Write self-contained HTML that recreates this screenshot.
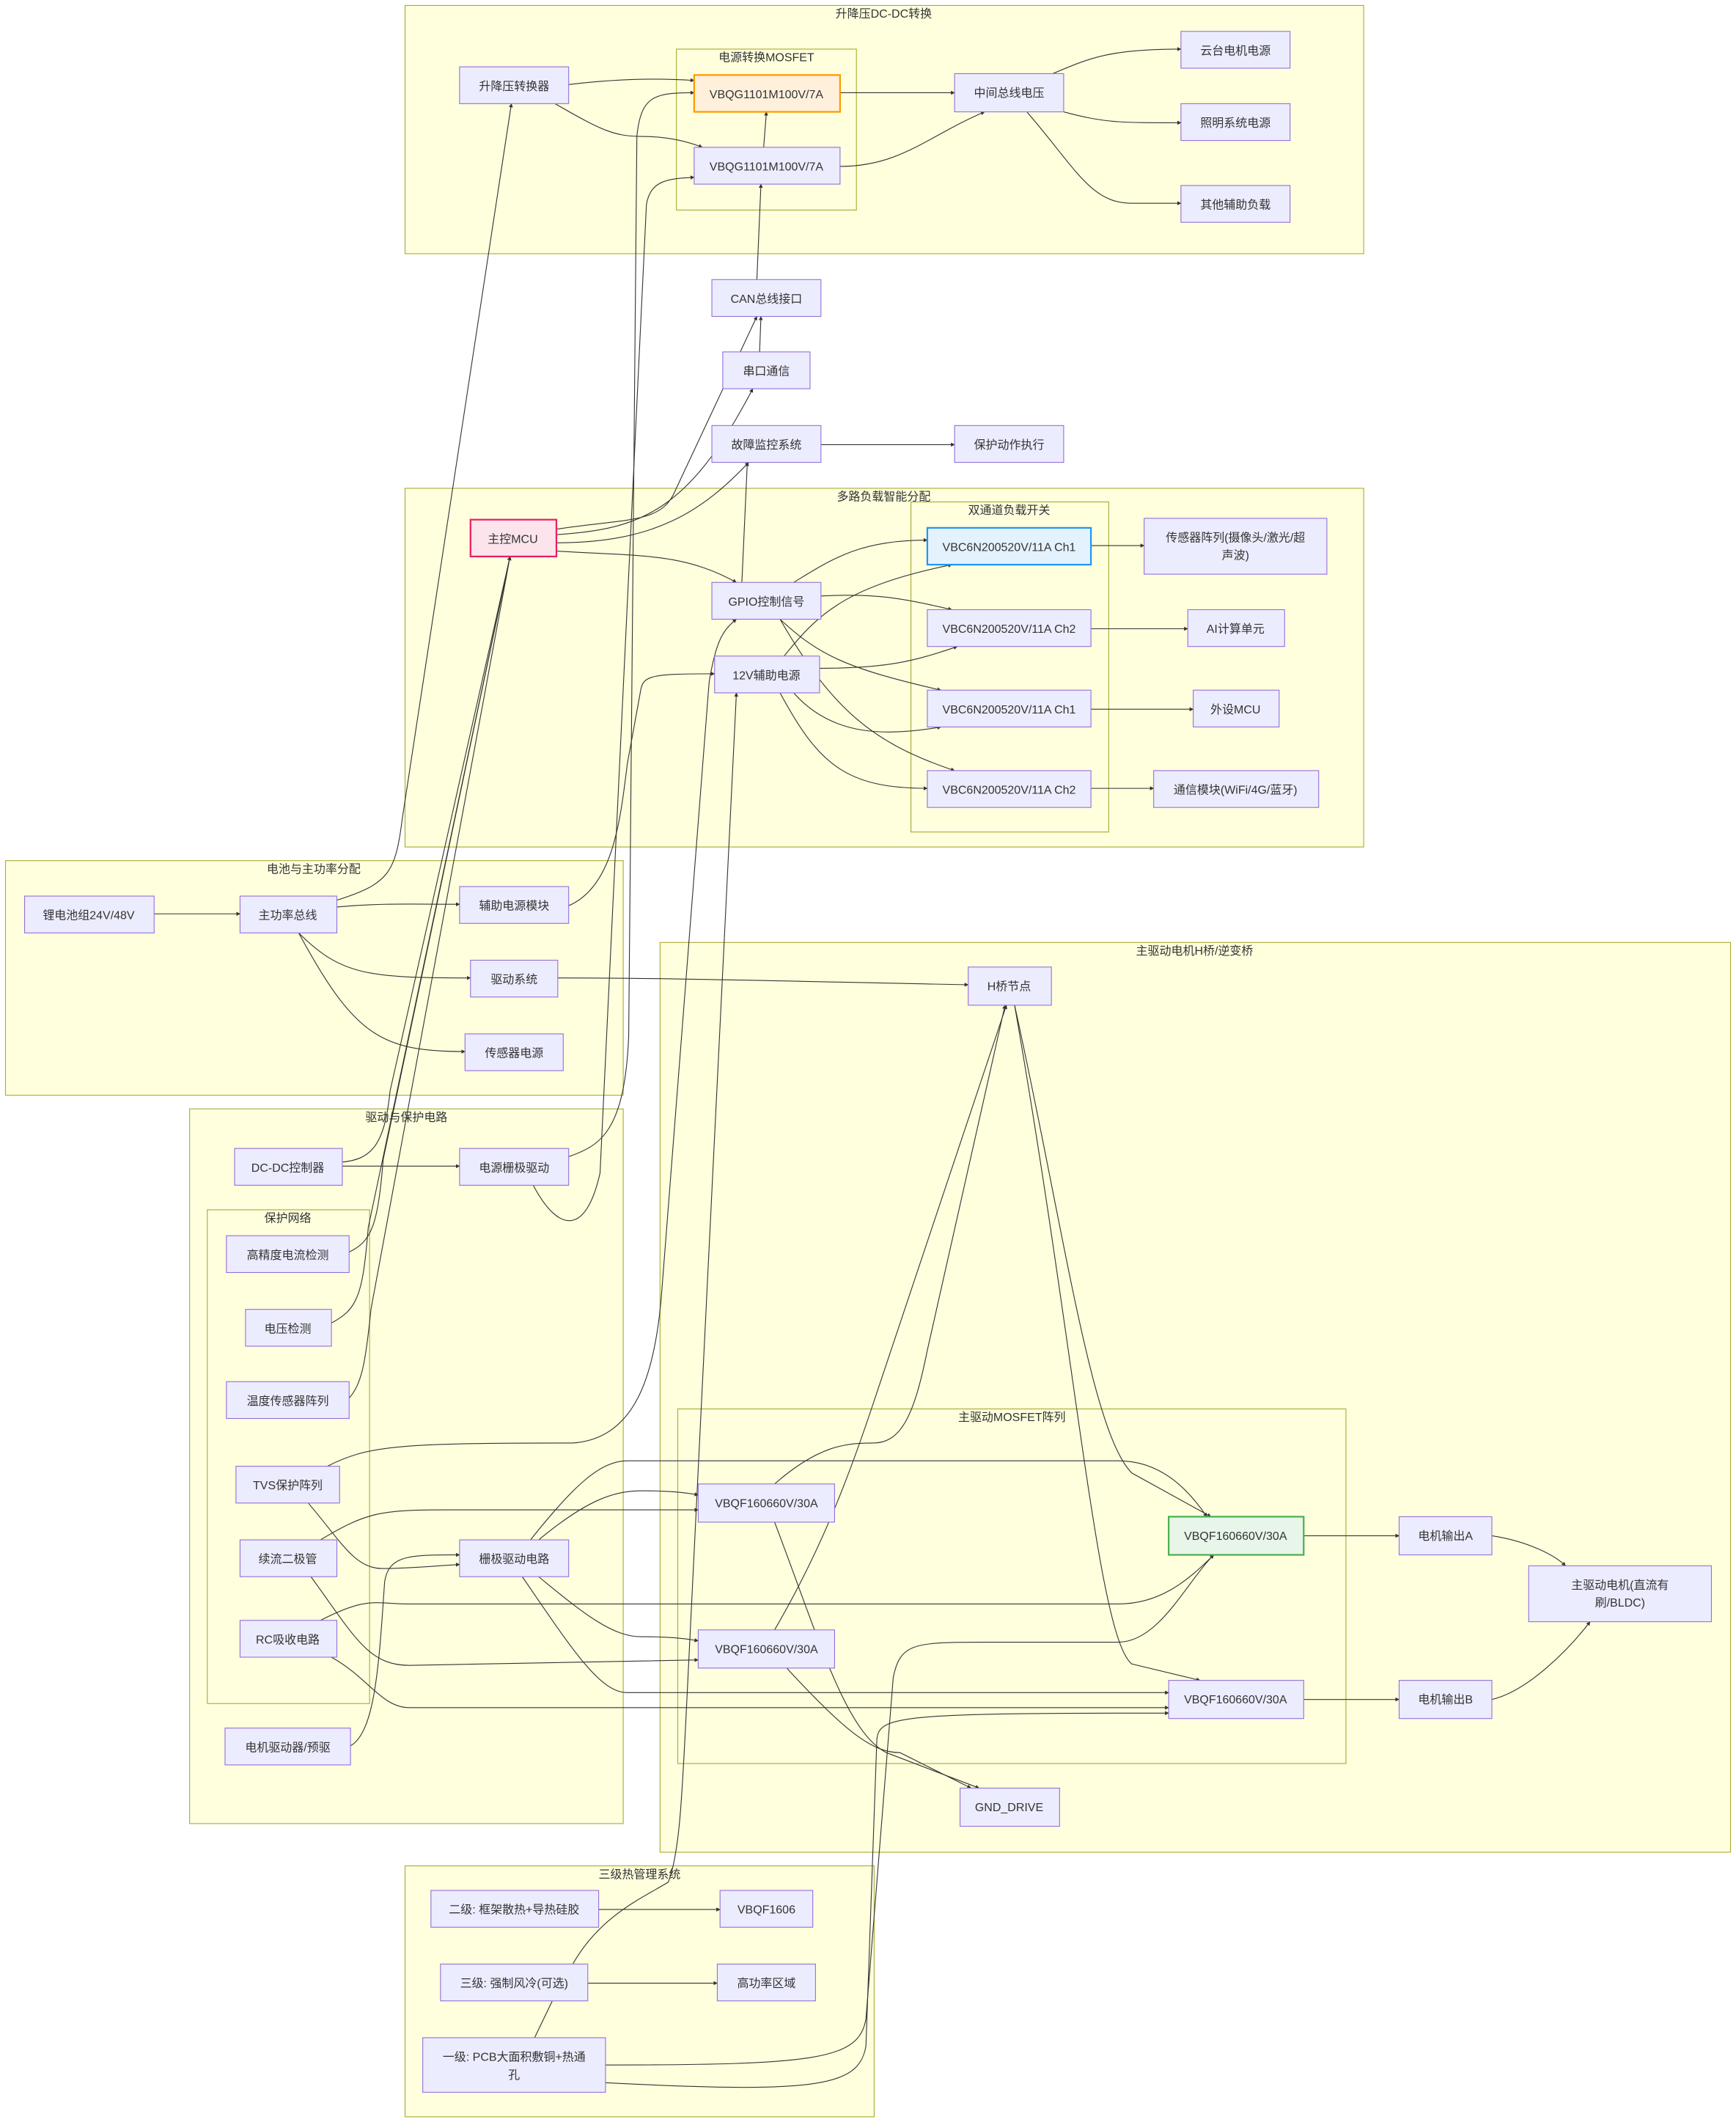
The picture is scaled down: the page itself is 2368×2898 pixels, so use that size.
<!DOCTYPE html>
<html><head><meta charset="utf-8"><style>
html,body{margin:0;padding:0;background:#fff;}
svg{display:block;}
text{font-family:"Liberation Sans","Noto Sans CJK SC",sans-serif;font-size:8.6px;fill:#333;}
.c{fill:#ffffde;stroke:#aaaa33;stroke-width:0.6;}
.n{fill:#ececff;stroke:#9370db;stroke-width:0.6;}
.e{fill:none;stroke:#333;stroke-width:0.6;}
</style></head><body>
<svg width="2368" height="2898" viewBox="0 0 1273 1558" xmlns="http://www.w3.org/2000/svg">
<defs><marker id="a" viewBox="0 0 10 10" refX="9" refY="5" markerWidth="5" markerHeight="5" orient="auto"><path d="M0,0L10,5L0,10z" fill="#333"/></marker></defs>
<!-- clusters -->
<rect class="c" x="297" y="4" width="703" height="182"/><text x="648" y="13" text-anchor="middle">升降压DC-DC转换</text>
<rect class="c" x="496" y="36" width="132" height="118"/><text x="562" y="45" text-anchor="middle">电源转换MOSFET</text>
<rect class="c" x="297" y="358" width="703" height="263"/><text x="648" y="367" text-anchor="middle">多路负载智能分配</text>
<rect class="c" x="668" y="368" width="145" height="242"/><text x="740" y="377" text-anchor="middle">双通道负载开关</text>
<rect class="c" x="4" y="631" width="453" height="172"/><text x="230" y="640" text-anchor="middle">电池与主功率分配</text>
<rect class="c" x="484" y="691" width="785" height="667"/><text x="876" y="700" text-anchor="middle">主驱动电机H桥/逆变桥</text>
<rect class="c" x="497" y="1033" width="490" height="260"/><text x="742" y="1042" text-anchor="middle">主驱动MOSFET阵列</text>
<rect class="c" x="139" y="813" width="318" height="524"/><text x="298" y="822" text-anchor="middle">驱动与保护电路</text>
<rect class="c" x="152" y="887" width="119" height="362"/><text x="211" y="896" text-anchor="middle">保护网络</text>
<rect class="c" x="297" y="1368" width="344" height="184"/><text x="469" y="1377" text-anchor="middle">三级热管理系统</text>
<!-- edges -->
<g class="e" marker-end="url(#a)">
<path d="M417,62 C450,58 480,57 509,59"/>
<path d="M407,76 C440,95 450,100 470,100 C490,100 505,104 515,108"/>
<path d="M560,108 L562,82"/>
<path d="M616,68 L700,68"/>
<path d="M616,122 C660,122 680,100 722,82"/>
<path d="M772,54 C800,42 815,36 866,36"/>
<path d="M780,82 C810,90 820,90 866,90"/>
<path d="M753,82 C790,125 800,149 830,149 L866,149"/>
<path d="M555,205 L558,135"/>
<path d="M557,258 L558,232"/>
<path d="M408,388 C460,380 485,384 495,360 L555,232"/>
<path d="M408,392 C470,388 505,375 552,285"/>
<path d="M408,398 C480,398 515,375 549,339"/>
<path d="M408,404 C470,408 500,405 540,427"/>
<path d="M544,427 L548,339"/>
<path d="M602,326 L700,326"/>
<path d="M582,427 C610,410 630,396 680,396"/>
<path d="M602,437 C640,435 660,438 698,447"/>
<path d="M572,454 C600,480 620,490 690,506"/>
<path d="M572,454 C610,520 640,545 700,565"/>
<path d="M575,481 C600,450 620,430 698,414"/>
<path d="M601,490 C650,490 670,485 702,474"/>
<path d="M582,508 C610,540 650,540 690,533"/>
<path d="M572,508 C600,560 620,578 680,578"/>
<path d="M800,400 L839,400"/>
<path d="M800,461 L871,461"/>
<path d="M800,520 L875,520"/>
<path d="M800,578 L846,578"/>
<path d="M417,664 C450,650 455,600 460,560 L470,505 C472,495 480,494 524,494"/>
<path d="M113,670 L176,670"/>
<path d="M247,665 C280,662 300,663 337,663"/>
<path d="M219,684 C250,715 270,717 345,717"/>
<path d="M219,684 C260,760 280,771 341,771"/>
<path d="M247,660 C285,648 290,640 295,600 L375,76"/>
<path d="M409,717 C500,717 600,720 710,722"/>
<path d="M417,848 C440,840 458,830 461,760 L467,100 C470,70 480,68 509,68"/>
<path d="M391,869 C410,905 430,905 440,860 L474,150 C477,132 490,131 509,130"/>
<path d="M251,855 L337,855"/>
<path d="M251,852 C272,850 282,840 286,800 L374,408"/>
<path d="M256,918 C272,910 277,900 281,850 L374,408"/>
<path d="M243,970 C262,960 266,950 270,900 L374,408"/>
<path d="M256,1025 C265,1015 268,1000 272,960 L374,408"/>
<path d="M240,1075 C270,1060 290,1058 420,1058 C465,1055 480,1010 485,950 L520,500 C525,470 530,462 540,454"/>
<path d="M226,1102 C250,1130 260,1150 280,1150 C300,1150 320,1148 337,1147"/>
<path d="M235,1129 C270,1108 280,1107 330,1107 L512,1107"/>
<path d="M228,1156 C260,1200 270,1221 300,1221 L512,1217"/>
<path d="M235,1188 C270,1170 275,1176 300,1176 L820,1176 C850,1176 870,1160 890,1140"/>
<path d="M243,1215 C270,1230 280,1252 300,1252 L857,1252"/>
<path d="M257,1280 C275,1270 278,1220 282,1160 C285,1140 300,1140 337,1140"/>
<path d="M395,1129 C430,1100 450,1093 470,1093 C490,1093 500,1094 512,1096"/>
<path d="M395,1156 C430,1185 450,1200 470,1200 C490,1200 500,1201 512,1203"/>
<path d="M389,1129 C420,1090 440,1071 460,1071 L820,1071 C850,1071 870,1090 885,1112"/>
<path d="M383,1156 C420,1210 440,1241 460,1241 L857,1241"/>
<path d="M568,1088 C600,1060 620,1058 640,1058 C660,1058 670,1040 680,990 L737,737"/>
<path d="M568,1195 C600,1140 620,1090 640,1030 L738,737"/>
<path d="M568,1116 C600,1200 620,1270 650,1285 L718,1311"/>
<path d="M576,1222 C620,1270 640,1285 660,1285 L712,1311"/>
<path d="M744,737 C780,900 800,1050 830,1080 L888,1112"/>
<path d="M744,737 C790,1000 805,1200 830,1220 L880,1232"/>
<path d="M956,1126 L1026,1126"/>
<path d="M1094,1126 C1120,1130 1140,1140 1148,1148"/>
<path d="M956,1246 L1026,1246"/>
<path d="M1094,1246 C1120,1240 1150,1210 1166,1189"/>
<path d="M439,1400 L528,1400"/>
<path d="M431,1454 L526,1454"/>
<path d="M444,1514 C600,1514 630,1510 635,1480 L655,1230 C660,1205 670,1204 720,1204 L820,1204 C850,1204 870,1160 890,1140"/>
<path d="M444,1527 C600,1535 630,1530 635,1500 L643,1275 C645,1258 660,1256 857,1256"/>
<path d="M420,1440 C440,1405 470,1392 490,1380 C498,1360 500,1320 503,1260 L540,508"/>
</g>
<path class="e" d="M392,1494 L405,1467"/>
<!-- nodes -->
<g>
<rect class="n" x="337" y="49" width="80" height="27"/><text x="377" y="66" text-anchor="middle">升降压转换器</text>
<rect x="509" y="55" width="107" height="27" fill="#fff0dc" stroke="#ff9800" stroke-width="1.2"/><text x="562" y="72" text-anchor="middle">VBQG1101M100V/7A</text>
<rect class="n" x="509" y="108" width="107" height="27"/><text x="562" y="125" text-anchor="middle">VBQG1101M100V/7A</text>
<rect class="n" x="700" y="54" width="80" height="28"/><text x="740" y="71" text-anchor="middle">中间总线电压</text>
<rect class="n" x="866" y="23" width="80" height="27"/><text x="906" y="40" text-anchor="middle">云台电机电源</text>
<rect class="n" x="866" y="76" width="80" height="27"/><text x="906" y="93" text-anchor="middle">照明系统电源</text>
<rect class="n" x="866" y="136" width="80" height="27"/><text x="906" y="153" text-anchor="middle">其他辅助负载</text>
<rect class="n" x="522" y="205" width="80" height="27"/><text x="562" y="222" text-anchor="middle">CAN总线接口</text>
<rect class="n" x="530" y="258" width="64" height="27"/><text x="562" y="275" text-anchor="middle">串口通信</text>
<rect class="n" x="522" y="312" width="80" height="27"/><text x="562" y="329" text-anchor="middle">故障监控系统</text>
<rect class="n" x="700" y="312" width="80" height="27"/><text x="740" y="329" text-anchor="middle">保护动作执行</text>
<rect x="345" y="381" width="63" height="27" fill="#fce4ec" stroke="#e91e63" stroke-width="1.2"/><text x="376" y="398" text-anchor="middle">主控MCU</text>
<rect class="n" x="522" y="427" width="80" height="27"/><text x="562" y="444" text-anchor="middle">GPIO控制信号</text>
<rect class="n" x="524" y="481" width="77" height="27"/><text x="562" y="498" text-anchor="middle">12V辅助电源</text>
<rect x="680" y="387" width="120" height="27" fill="#e3f2fd" stroke="#2196f3" stroke-width="1.2"/><text x="740" y="404" text-anchor="middle">VBC6N200520V/11A Ch1</text>
<rect class="n" x="680" y="447" width="120" height="27"/><text x="740" y="464" text-anchor="middle">VBC6N200520V/11A Ch2</text>
<rect class="n" x="680" y="506" width="120" height="27"/><text x="740" y="523" text-anchor="middle">VBC6N200520V/11A Ch1</text>
<rect class="n" x="680" y="565" width="120" height="27"/><text x="740" y="582" text-anchor="middle">VBC6N200520V/11A Ch2</text>
<rect class="n" x="839" y="380" width="134" height="41"/><text x="906" y="397" text-anchor="middle">传感器阵列(摄像头/激光/超</text><text x="906" y="410" text-anchor="middle">声波)</text>
<rect class="n" x="871" y="447" width="71" height="27"/><text x="906" y="464" text-anchor="middle">AI计算单元</text>
<rect class="n" x="875" y="506" width="63" height="27"/><text x="906" y="523" text-anchor="middle">外设MCU</text>
<rect class="n" x="846" y="565" width="121" height="27"/><text x="906" y="582" text-anchor="middle">通信模块(WiFi/4G/蓝牙)</text>
<rect class="n" x="18" y="657" width="95" height="27"/><text x="65" y="674" text-anchor="middle">锂电池组24V/48V</text>
<rect class="n" x="176" y="657" width="71" height="27"/><text x="211" y="674" text-anchor="middle">主功率总线</text>
<rect class="n" x="337" y="650" width="80" height="27"/><text x="377" y="667" text-anchor="middle">辅助电源模块</text>
<rect class="n" x="345" y="704" width="64" height="27"/><text x="377" y="721" text-anchor="middle">驱动系统</text>
<rect class="n" x="341" y="758" width="72" height="27"/><text x="377" y="775" text-anchor="middle">传感器电源</text>
<rect class="n" x="710" y="709" width="61" height="28"/><text x="740" y="726" text-anchor="middle">H桥节点</text>
<rect class="n" x="172" y="842" width="79" height="27"/><text x="211" y="859" text-anchor="middle">DC-DC控制器</text>
<rect class="n" x="337" y="842" width="80" height="27"/><text x="377" y="859" text-anchor="middle">电源栅极驱动</text>
<rect class="n" x="166" y="906" width="90" height="27"/><text x="211" y="923" text-anchor="middle">高精度电流检测</text>
<rect class="n" x="180" y="960" width="63" height="27"/><text x="211" y="977" text-anchor="middle">电压检测</text>
<rect class="n" x="166" y="1013" width="90" height="27"/><text x="211" y="1030" text-anchor="middle">温度传感器阵列</text>
<rect class="n" x="173" y="1075" width="76" height="27"/><text x="211" y="1092" text-anchor="middle">TVS保护阵列</text>
<rect class="n" x="176" y="1129" width="71" height="27"/><text x="211" y="1146" text-anchor="middle">续流二极管</text>
<rect class="n" x="176" y="1188" width="71" height="27"/><text x="211" y="1205" text-anchor="middle">RC吸收电路</text>
<rect class="n" x="165" y="1267" width="92" height="27"/><text x="211" y="1284" text-anchor="middle">电机驱动器/预驱</text>
<rect class="n" x="337" y="1129" width="80" height="27"/><text x="377" y="1146" text-anchor="middle">栅极驱动电路</text>
<rect class="n" x="512" y="1088" width="100" height="28"/><text x="562" y="1105" text-anchor="middle">VBQF160660V/30A</text>
<rect class="n" x="512" y="1195" width="100" height="28"/><text x="562" y="1212" text-anchor="middle">VBQF160660V/30A</text>
<rect x="857" y="1112" width="99" height="28" fill="#e8f5e9" stroke="#4caf50" stroke-width="1.2"/><text x="906" y="1129" text-anchor="middle">VBQF160660V/30A</text>
<rect class="n" x="857" y="1232" width="99" height="28"/><text x="906" y="1249" text-anchor="middle">VBQF160660V/30A</text>
<rect class="n" x="1026" y="1112" width="68" height="28"/><text x="1060" y="1129" text-anchor="middle">电机输出A</text>
<rect class="n" x="1026" y="1232" width="68" height="28"/><text x="1060" y="1249" text-anchor="middle">电机输出B</text>
<rect class="n" x="1121" y="1148" width="134" height="41"/><text x="1188" y="1165" text-anchor="middle">主驱动电机(直流有</text><text x="1188" y="1178" text-anchor="middle">刷/BLDC)</text>
<rect class="n" x="704" y="1311" width="73" height="28"/><text x="740" y="1328" text-anchor="middle">GND_DRIVE</text>
<rect class="n" x="316" y="1386" width="123" height="27"/><text x="377" y="1403" text-anchor="middle">二级: 框架散热+导热硅胶</text>
<rect class="n" x="528" y="1386" width="68" height="27"/><text x="562" y="1403" text-anchor="middle">VBQF1606</text>
<rect class="n" x="323" y="1440" width="108" height="27"/><text x="377" y="1457" text-anchor="middle">三级: 强制风冷(可选)</text>
<rect class="n" x="526" y="1440" width="72" height="27"/><text x="562" y="1457" text-anchor="middle">高功率区域</text>
<rect class="n" x="310" y="1494" width="134" height="40"/><text x="377" y="1511" text-anchor="middle">一级: PCB大面积敷铜+热通</text><text x="377" y="1524" text-anchor="middle">孔</text>
</g>
</svg>
</body></html>
